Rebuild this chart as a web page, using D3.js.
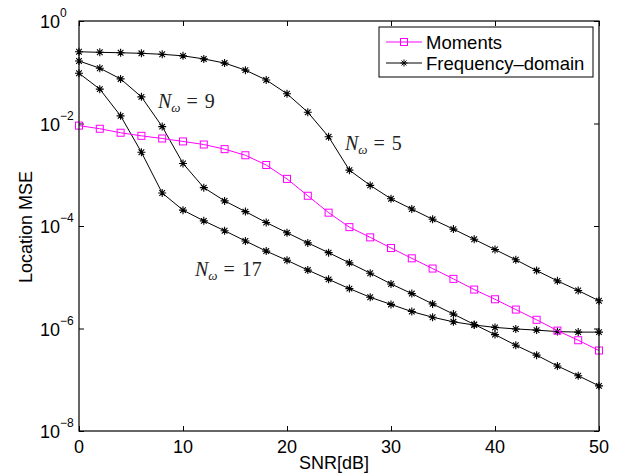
<!DOCTYPE html>
<html>
<head>
<meta charset="utf-8">
<script src="https://cdn.jsdelivr.net/npm/d3@7"></script>
<style>
  html, body { margin: 0; padding: 0; background: #fff; }
  svg { display: block; }
</style>
</head>
<body>
<svg id="chart" width="625" height="476"></svg>
<script>
// SNR sweep (dB)
const snr = [0, 2, 4, 6, 8, 10, 12, 14, 16, 18, 20, 22, 24, 26, 28, 30, 32, 34, 36, 38, 40, 42, 44, 46, 48, 50];

// Location MSE, moment-based estimator
const moments = [9.1e-3, 7.9e-3, 6.6e-3, 5.75e-3, 5.1e-3, 4.47e-3, 3.89e-3, 3.16e-3, 2.40e-3, 1.55e-3,
  8.3e-4, 3.89e-4, 1.82e-4, 9.5e-5, 6.0e-5, 3.72e-5, 2.34e-5, 1.48e-5, 9.3e-6, 5.75e-6,
  3.72e-6, 2.34e-6, 1.48e-6, 9.1e-7, 5.9e-7, 3.72e-7];

// Location MSE, frequency-domain estimator for N_w = 5, 9, 17
const freqN5 = [0.251, 0.245, 0.240, 0.234, 0.224, 0.209, 0.182, 0.151, 0.110, 0.0708,
  0.0380, 0.0166, 5.5e-3, 1.23e-3, 6.2e-4, 3.4e-4, 2.14e-4, 1.35e-4, 8.7e-5, 5.5e-5,
  3.47e-5, 2.19e-5, 1.35e-5, 8.5e-6, 5.5e-6, 3.47e-6];
const freqN9 = [0.166, 0.120, 0.0741, 0.0331, 8.7e-3, 1.66e-3, 5.6e-4, 3.09e-4, 1.91e-4, 1.17e-4,
  7.4e-5, 4.68e-5, 3.02e-5, 1.91e-5, 1.20e-5, 7.4e-6, 4.8e-6, 3.02e-6, 1.91e-6, 1.20e-6,
  7.6e-7, 4.7e-7, 3.02e-7, 1.86e-7, 1.20e-7, 7.6e-8];
const freqN17 = [0.0955, 0.0468, 0.0141, 2.75e-3, 4.4e-4, 2.04e-4, 1.26e-4, 8.1e-5, 5.1e-5, 3.24e-5,
  2.14e-5, 1.38e-5, 9.1e-6, 6.0e-6, 4.07e-6, 2.95e-6, 2.14e-6, 1.66e-6, 1.35e-6, 1.17e-6,
  1.05e-6, 9.8e-7, 9.3e-7, 8.7e-7, 8.5e-7, 8.5e-7];

const xTicks = [0, 10, 20, 30, 40, 50];
const yTickExponents = [0, -2, -4, -6, -8];
const legendLabels = ["Moments", "Frequency\u2013domain"];
const curveLabels = ["9", "5", "17"];

const svg = d3.select("#chart");
const plot = { left: 79, top: 21, right: 599, bottom: 431 };

const x = d3.scaleLinear().domain([0, 50]).range([plot.left, plot.right]);
const y = d3.scaleLog().domain([1e-8, 1]).range([plot.bottom, plot.top]);

const magenta = "#ff00ff";
const sansFont = "'Liberation Sans', Arial, Helvetica, sans-serif";
const serifFont = "'Liberation Serif', 'DejaVu Serif', serif";

// inward ticks on all four sides
const tickLen = 5;
const xAxisB = d3.axisBottom(x).tickValues(xTicks).tickSizeInner(-tickLen).tickSizeOuter(0).tickFormat("");
const xAxisT = d3.axisTop(x).tickValues(xTicks).tickSizeInner(-tickLen).tickSizeOuter(0).tickFormat("");
const yVals = yTickExponents.map(e => Math.pow(10, e));
const yAxisL = d3.axisLeft(y).tickValues(yVals).tickSizeInner(-tickLen).tickSizeOuter(0).tickFormat("");
const yAxisR = d3.axisRight(y).tickValues(yVals).tickSizeInner(-tickLen).tickSizeOuter(0).tickFormat("");

function styleAxis(g) {
  g.selectAll(".domain").remove();
  g.selectAll("line").attr("stroke", "#000").attr("stroke-width", 1);
}
svg.append("g").attr("transform", `translate(0,${plot.bottom})`).call(xAxisB).call(styleAxis);
svg.append("g").attr("transform", `translate(0,${plot.top})`).call(xAxisT).call(styleAxis);
svg.append("g").attr("transform", `translate(${plot.left},0)`).call(yAxisL).call(styleAxis);
svg.append("g").attr("transform", `translate(${plot.right},0)`).call(yAxisR).call(styleAxis);

// x tick labels
svg.append("g").selectAll("text").data(xTicks).join("text")
  .attr("x", d => x(d)).attr("y", plot.bottom + 22)
  .attr("text-anchor", "middle")
  .attr("font-family", sansFont).attr("font-size", 18)
  .text(d => d);

// y tick labels as 10^e
const yLab = svg.append("g").selectAll("text").data(yTickExponents).join("text")
  .attr("x", 40).attr("y", d => y(Math.pow(10, d)) + 7)
  .attr("text-anchor", "start")
  .attr("font-family", sansFont).attr("font-size", 18);
yLab.append("tspan").text("10");
yLab.append("tspan").attr("dy", -11).attr("font-size", 12)
  .text(d => d === 0 ? "0" : "\u2212" + Math.abs(d));

// axis titles
svg.append("text")
  .attr("x", 334).attr("y", 469)
  .attr("text-anchor", "middle")
  .attr("font-family", sansFont).attr("font-size", 18)
  .text("SNR[dB]");
svg.append("text")
  .attr("transform", `translate(32,227) rotate(-90)`)
  .attr("text-anchor", "middle")
  .attr("font-family", sansFont).attr("font-size", 18)
  .text("Location MSE");

// curves
const line = d3.line().x((d, i) => x(snr[i])).y(d => y(d));
const starPath = (cx, cy, r) => {
  let p = "";
  for (let k = 0; k < 4; k++) {
    const a = k * Math.PI / 4;
    const dx = r * Math.cos(a), dy = r * Math.sin(a);
    p += `M${cx - dx},${cy - dy}L${cx + dx},${cy + dy}`;
  }
  return p;
};

const freqSeries = [freqN5, freqN9, freqN17];
freqSeries.forEach(vals => {
  svg.append("path").datum(vals)
    .attr("d", line).attr("fill", "none").attr("stroke", "#000").attr("stroke-width", 1);
  svg.append("g").selectAll("path").data(vals).join("path")
    .attr("d", (d, i) => starPath(x(snr[i]), y(d), 4))
    .attr("stroke", "#000").attr("stroke-width", 1.1).attr("fill", "none");
});

svg.append("path").datum(moments)
  .attr("d", line).attr("fill", "none").attr("stroke", magenta).attr("stroke-width", 1);
svg.append("g").selectAll("rect").data(moments).join("rect")
  .attr("x", (d, i) => x(snr[i]) - 3.5).attr("y", d => y(d) - 3.5)
  .attr("width", 7).attr("height", 7)
  .attr("fill", "none").attr("stroke", magenta).attr("stroke-width", 1);

// plot frame
svg.append("rect")
  .attr("x", plot.left).attr("y", plot.top)
  .attr("width", plot.right - plot.left).attr("height", plot.bottom - plot.top)
  .attr("fill", "none").attr("stroke", "#000").attr("stroke-width", 1.2);

// curve annotations: N_ω = value
const annPos = [[158, 108], [345, 150], [195, 276]];
curveLabels.forEach((lab, i) => {
  const t = svg.append("text")
    .attr("x", annPos[i][0]).attr("y", annPos[i][1])
    .attr("font-family", serifFont).attr("font-size", 20).attr("fill", "#222");
  t.append("tspan").attr("font-style", "italic").text("N");
  t.append("tspan").attr("font-style", "italic").attr("font-size", 13).attr("dy", 4).text("\u03c9");
  t.append("tspan").attr("dy", -4).attr("dx", 6).text("=");
  t.append("tspan").attr("dx", 7).text(lab);
});

// legend
const leg = svg.append("g");
leg.append("rect")
  .attr("x", 379).attr("y", 27).attr("width", 214).attr("height", 50)
  .attr("fill", "#fff").attr("stroke", "#000").attr("stroke-width", 1);
const legRows = [42, 63];
legendLabels.forEach((lab, i) => {
  const cy = legRows[i];
  const col = i === 0 ? magenta : "#000";
  leg.append("line").attr("x1", 386).attr("x2", 422).attr("y1", cy).attr("y2", cy)
    .attr("stroke", col).attr("stroke-width", 1);
  if (i === 0) {
    leg.append("rect").attr("x", 404 - 3.5).attr("y", cy - 3.5).attr("width", 7).attr("height", 7)
      .attr("fill", "none").attr("stroke", col);
  } else {
    leg.append("path").attr("d", starPath(404, cy, 3.5)).attr("stroke", col).attr("fill", "none");
  }
  leg.append("text").attr("x", 426).attr("y", cy + 6.5)
    .attr("font-family", sansFont).attr("font-size", 18.5)
    .text(lab);
});
</script>
</body>
</html>
